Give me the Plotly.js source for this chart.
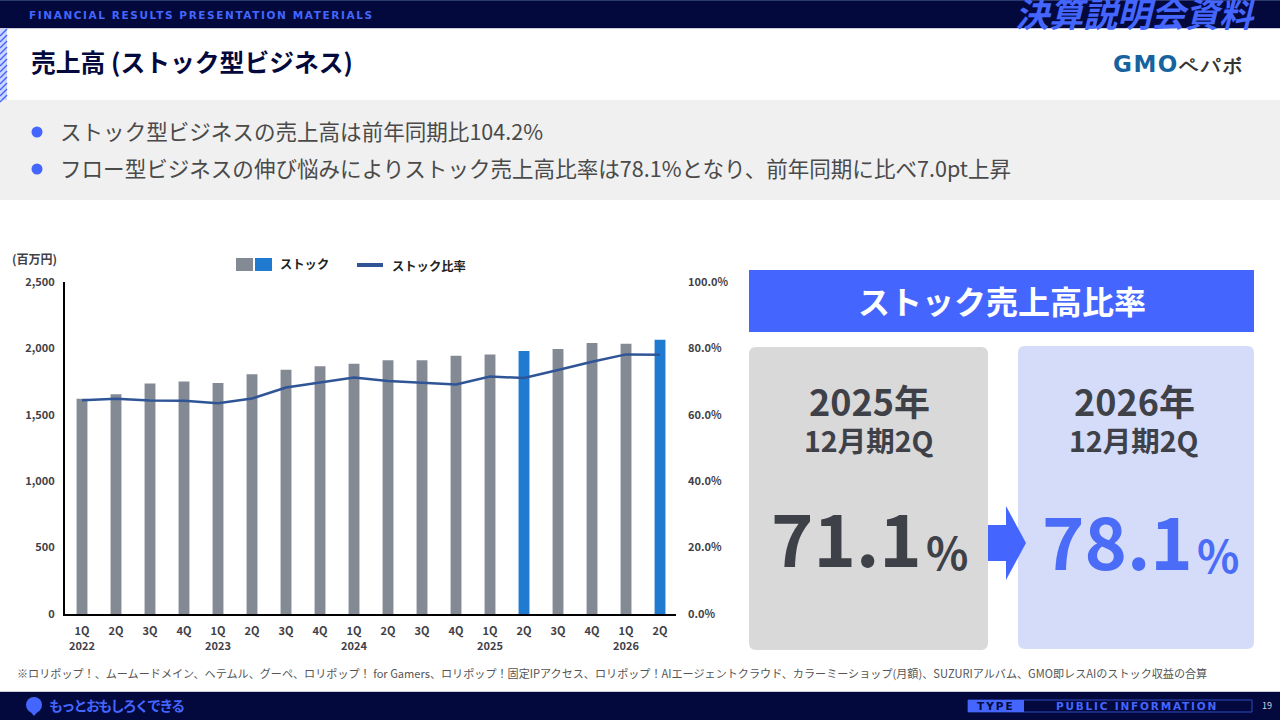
<!DOCTYPE html>
<html>
<head>
<meta charset="utf-8">
<script src="https://cdn.plot.ly/plotly-3.0.1.min.js"></script>
<style>
  html, body { margin: 0; padding: 0; background: #fff; }
  #chart { width: 1280px; height: 720px; }
</style>
</head>
<body>
<div id="chart"></div>
<script>
const categories = ["2022 1Q","2022 2Q","2022 3Q","2022 4Q","2023 1Q","2023 2Q","2023 3Q","2023 4Q","2024 1Q","2024 2Q","2024 3Q","2024 4Q","2025 1Q","2025 2Q","2025 3Q","2025 4Q","2026 1Q","2026 2Q"];
const tickLabels = ["1Q<br>2022","2Q","3Q","4Q","1Q<br>2023","2Q","3Q","4Q","1Q<br>2024","2Q","3Q","4Q","1Q<br>2025","2Q","3Q","4Q","1Q<br>2026","2Q"];
const stockSales = [1620,1655,1735,1750,1740,1805,1840,1865,1885,1910,1910,1945,1955,1980,1995,2040,2035,2065];
const stockRatio = [64.4,64.8,64.3,64.2,63.5,64.9,68.2,69.8,71.2,70.2,69.6,69.1,71.5,71.1,73.5,76.0,78.2,78.1];
const barColors = ["#848a94","#848a94","#848a94","#848a94","#848a94","#848a94","#848a94","#848a94","#848a94","#848a94","#848a94","#848a94","#848a94","#1f7ad0","#848a94","#848a94","#848a94","#1f7ad0"];
const leftTicks = [0,500,1000,1500,2000,2500];
const rightTicks = [0,20,40,60,80,100];
const rightTickLabels = ["0.0%","20.0%","40.0%","60.0%","80.0%","100.0%"];

const NAVY = "#03093d", BLUE = "#4466ff", INK = "#3f4148";
const JP = "'Noto Sans CJK JP', 'Noto Sans', sans-serif";
const WIDE = "'DejaVu Sans', sans-serif";

// pixel -> paper helpers, margins are zero so the paper is the whole page
const px = x => x / 1280;
const py = y => 1 - y / 720;
const spaced = (s, n) => "<span style='letter-spacing:" + n + "px'>" + s + "</span>";

function rect(x0, y0, x1, y1, color, line) {
  return { type: "rect", xref: "paper", yref: "paper", x0: px(x0), x1: px(x1), y0: py(y0), y1: py(y1),
    fillcolor: color, line: line || { width: 0 }, layer: "below" };
}
function poly(points, color) {
  const d = points.map((p, i) => (i ? "L" : "M") + px(p[0]) + "," + py(p[1])).join(" ") + " Z";
  return { type: "path", xref: "paper", yref: "paper", path: d, fillcolor: color, line: { width: 0 }, layer: "below" };
}
function round(x0, y0, x1, y1, r, color) {
  const p = (x, y) => px(x) + "," + py(y);
  const d = "M" + p(x0 + r, y0) + " L" + p(x1 - r, y0) + " Q" + p(x1, y0) + " " + p(x1, y0 + r) +
    " L" + p(x1, y1 - r) + " Q" + p(x1, y1) + " " + p(x1 - r, y1) +
    " L" + p(x0 + r, y1) + " Q" + p(x0, y1) + " " + p(x0, y1 - r) +
    " L" + p(x0, y0 + r) + " Q" + p(x0, y0) + " " + p(x0 + r, y0) + " Z";
  return { type: "path", xref: "paper", yref: "paper", path: d, fillcolor: color, line: { width: 0 }, layer: "below" };
}
function dot(cx, cy, r, color) {
  return { type: "circle", xref: "paper", yref: "paper", x0: px(cx - r), x1: px(cx + r), y0: py(cy + r), y1: py(cy - r),
    fillcolor: color, line: { width: 0 }, layer: "below" };
}
function txt(x, y, text, size, color, weight, anchor, family) {
  return { xref: "paper", yref: "paper", x: px(x), y: py(y), text: text, showarrow: false,
    xanchor: anchor || "left", yanchor: "middle", borderpad: 0,
    font: { family: family || JP, size: size, color: color, weight: weight || 400 } };
}

const shapes = [
  rect(0, 0, 1280, 28, NAVY),
  rect(0, 0, 1280, 1, "#2c3a6e"),
  rect(0, 100, 1280, 200, "#f0f0f0"),
  rect(0, 692, 1280, 720, NAVY),
  rect(0, 28, 1280, 29, "#c9ccd6"),
  rect(0, 691, 1280, 692, "#c9ccd6"),
  // left hatch strip
  rect(0, 29, 7, 100, "#ccd6ff"),
  // bullets
  dot(37, 132, 5.5, BLUE),
  dot(37, 169, 5.5, BLUE),
  // legend swatches
  rect(236, 258, 253, 271, "#848a94"),
  rect(255, 258, 272, 271, "#1f7ad0"),
  rect(357, 263, 383, 267, "#2f5597"),
  // right panel
  rect(749, 270, 1254, 332, BLUE),
  round(749, 347, 988, 650, 7, "#d9d9d9"),
  round(1018, 346, 1254, 649, 7, "#d4dcf9"),
  poly([[988, 525], [1006, 525], [1006, 506], [1026, 543], [1006, 580], [1006, 561], [988, 561]], BLUE),
  // footer tag and balloon
  dot(34, 705, 8, BLUE),
  poly([[29, 710], [39, 710], [34, 716]], BLUE),
  rect(968, 700, 1252, 712, NAVY, { color: "#2f4bc4", width: 1 }),
  rect(968, 700, 1024, 712, BLUE)
];
for (let i = 0; i < 12; i++) {
  shapes.push({ type: "line", xref: "paper", yref: "paper", x0: px(0), x1: px(7), y0: py(36 + i * 6), y1: py(29 + i * 6),
    line: { color: BLUE, width: 1.5 }, layer: "below" });
}

const annotations = [
  txt(28, 15, spaced("FINANCIAL RESULTS PRESENTATION MATERIALS", 1.6), 10.5, BLUE, 700, "left", WIDE),
  txt(1135, 12, "<i>決算説明会資料</i>", 34, BLUE, 700, "center"),
  txt(30, 61, "売上高 (ストック型ビジネス)", 24.8, NAVY, 700),
  txt(1112, 64, "<span style='color:#16639e;font-size:23px;letter-spacing:1.5px'>GMO</span><span style='color:#333;font-size:19px;letter-spacing:3px'>ペパボ</span>", 18, "#333", 700, "left", WIDE),
  txt(59, 130, "ストック型ビジネスの売上高は前年同期比104.2%", 21.55, "#4a4a4a"),
  txt(59, 167, "フロー型ビジネスの伸び悩みによりストック売上高比率は78.1%となり、前年同期に比べ7.0pt上昇", 21.55, "#4a4a4a"),
  txt(11, 258, "(百万円)", 12, INK, 700),
  txt(279, 264, "ストック", 12.3, "#222", 700),
  txt(391, 266, "ストック比率", 12.3, "#222", 700),
  txt(1002, 300, "ストック売上高比率", 32, "#fff", 700, "center"),
  txt(869, 400, "2025年", 36, INK, 700, "center"),
  txt(868, 439, "12月期2Q", 28.5, INK, 700, "center"),
  txt(846, 535, "71.1", 72, INK, 700, "center"),
  txt(947, 551, "%", 44, INK, 700, "center"),
  txt(1134, 400, "2026年", 36, INK, 700, "center"),
  txt(1133, 439, "12月期2Q", 28.5, INK, 700, "center"),
  txt(1117, 538, "78.1", 72, "#4a6cf7", 700, "center"),
  txt(1218, 554, "%", 44, "#4a6cf7", 700, "center"),
  txt(16, 673, "※ロリポップ！、ムームードメイン、ヘテムル、グーペ、ロリポップ！ for Gamers、ロリポップ！固定IPアクセス、ロリポップ！AIエージェントクラウド、カラーミーショップ(月額)、SUZURIアルバム、GMO即レスAIのストック収益の合算", 11.1, "#555"),
  txt(48, 705, spaced("もっとおもしろくできる", -1.7), 14, BLUE, 700),
  txt(996, 706, spaced("TYPE", 2), 10.5, NAVY, 700, "center", WIDE),
  txt(1137, 706, spaced("PUBLIC INFORMATION", 1.8), 10.5, BLUE, 700, "center", WIDE),
  txt(1267, 705, "19", 9, "#d0d4e4", 400, "center")
];

const traces = [
  { type: "bar", x: categories, y: stockSales, width: 0.32, marker: { color: barColors }, hoverinfo: "x+y", name: "ストック" },
  { type: "scatter", mode: "lines", x: categories, y: stockRatio, yaxis: "y2", line: { color: "#2f5597", width: 2.5 }, name: "ストック比率" }
];

const tickFont = { family: JP, size: 11, color: INK, weight: 700 };

const layout = {
  width: 1280, height: 720,
  margin: { l: 0, r: 0, t: 0, b: 0, pad: 0 },
  paper_bgcolor: "#fff", plot_bgcolor: "rgba(0,0,0,0)",
  showlegend: false,
  xaxis: {
    domain: [px(65), px(676)], type: "category", range: [-0.5, 17.47],
    tickmode: "array", tickvals: categories, ticktext: tickLabels, tickangle: 0, ticklabelstandoff: 6,
    showline: true, linecolor: "#000", linewidth: 2.2, showgrid: false, ticks: "", tickfont: tickFont, automargin: false
  },
  yaxis: {
    domain: [py(614), py(282)], range: [0, 2500], ticklabelstandoff: 6,
    tickmode: "array", tickvals: leftTicks, tickformat: ",d",
    showline: true, linecolor: "#000", linewidth: 2.2, showgrid: false, zeroline: false, ticks: "", tickfont: tickFont, automargin: false
  },
  yaxis2: {
    domain: [py(614), py(282)], range: [0, 100], overlaying: "y", side: "right", anchor: "x", ticklabelstandoff: 11,
    tickmode: "array", tickvals: rightTicks, ticktext: rightTickLabels,
    showline: false, showgrid: false, zeroline: false, ticks: "", tickfont: tickFont, automargin: false
  },
  shapes: shapes,
  annotations: annotations
};

Plotly.newPlot("chart", traces, layout, { displayModeBar: false });
</script>
</body>
</html>
